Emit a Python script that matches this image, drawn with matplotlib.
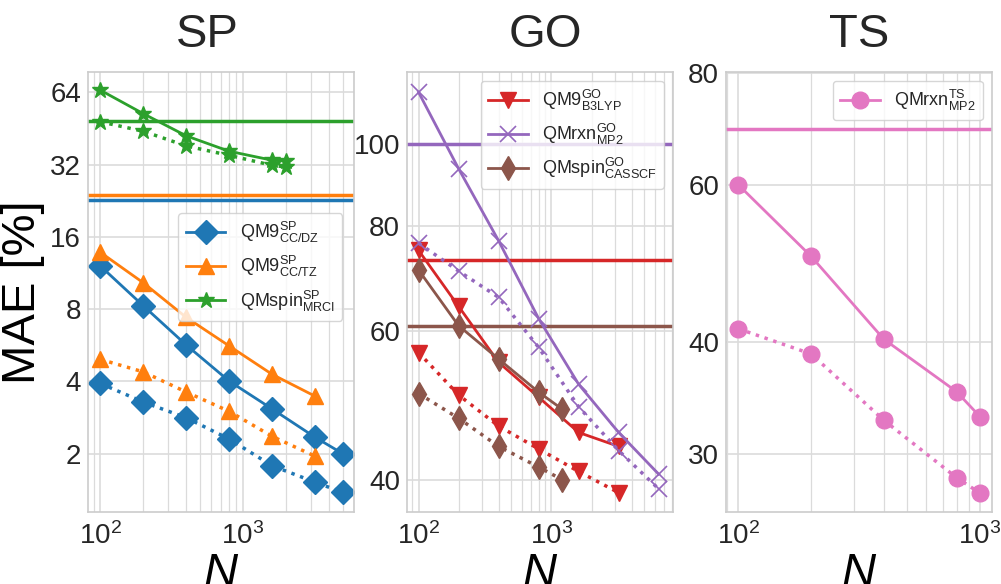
import numpy as np
import matplotlib
matplotlib.use("Agg")
import matplotlib.pyplot as plt
from matplotlib.ticker import FixedLocator, NullLocator, NullFormatter

# ---- data ----
sp_n_dz = [100, 200, 400, 800, 1600, 3200, 5000]
sp_n_tz = [100, 200, 400, 800, 1600, 3200]
sp_n_mrci = [100, 200, 400, 800, 1600, 2000]
sp_dz = [12.1, 8.26, 5.67, 4.01, 3.07, 2.34, 2.0]
sp_dz_dot = [3.92, 3.28, 2.82, 2.30, 1.78, 1.52, 1.38]
sp_tz = [13.8, 10.3, 7.39, 5.62, 4.28, 3.47]
sp_tz_dot = [4.94, 4.38, 3.61, 3.0, 2.36, 1.95]
sp_mrci = [65.4, 52.2, 42.2, 36.4, 33.4, 33.1]
sp_mrci_dot = [48.3, 44.1, 38.3, 35.0, 31.8, 31.3]
sp_hlines = [22.9, 23.9, 48.7]  # DZ, TZ, MRCI

go_n_b3lyp = [100, 200, 400, 800, 1600, 3200]
go_n_mp2 = [100, 200, 400, 800, 1600, 3200, 6400]
go_n_casscf = [100, 200, 400, 800, 1200]
go_b3lyp = [74.8, 64.2, 55.1, 50.1, 45.5, 43.8]
go_b3lyp_dot = [56.6, 50.4, 46.3, 43.5, 40.9, 38.6]
go_mp2 = [115.2, 93.5, 76.8, 62.1, 51.9, 45.5, 40.6]
go_mp2_dot = [76.3, 70.7, 65.8, 57.4, 48.8, 43.3, 39.0]
go_casscf = [70.9, 60.9, 55.6, 50.8, 48.5]
go_casscf_dot = [50.6, 47.3, 43.8, 41.4, 40.0]
go_hlines = [72.9, 100.0, 60.9]  # B3LYP, MP2, CASSCF

ts_n = [100, 200, 400, 800, 1000]
ts_mp2 = [60.0, 49.9, 40.3, 35.2, 33.0]
ts_mp2_dot = [41.4, 38.8, 32.7, 28.2, 27.1]
ts_hline = 69.3

plt.rcParams.update({
    "font.family": ["Liberation Sans", "DejaVu Sans"],
    "mathtext.fontset": "custom",
    "mathtext.rm": "Liberation Sans",
    "mathtext.it": "Liberation Sans:italic",
    "mathtext.bf": "Liberation Sans:bold",
    "axes.edgecolor": "0.8",
    "axes.linewidth": 1.2,
    "grid.color": "0.86",
    "xtick.major.size": 0, "ytick.major.size": 0,
    "xtick.minor.size": 0, "ytick.minor.size": 0,
    "xtick.major.pad": 7, "ytick.major.pad": 5,
    "xtick.labelsize": 20, "ytick.labelsize": 20,
    "text.color": "0.15", "xtick.color": "0.15", "ytick.color": "0.15",
    "legend.fontsize": 13,
})

c = plt.rcParams["axes.prop_cycle"].by_key()["color"]
blue, orange, green, red, purple, brown, pink = c[0], c[1], c[2], c[3], c[4], c[5], c[6]

fig, axes = plt.subplots(1, 3, figsize=(10.01, 5.84), dpi=100)
fig.subplots_adjust(left=0.088, right=0.991, bottom=0.123, top=0.877, wspace=0.2)

lw = 2
ms = 12


def style_axis(ax, title, tx):
    ax.set_xscale("log")
    ax.grid(True, which="major", lw=1.2)
    ax.xaxis.grid(True, which="minor", lw=0.9)
    ax.xaxis.set_minor_formatter(NullFormatter())
    ax.set_title(title, fontsize=34, pad=18, x=tx)
    ax.set_xlabel("$N$", fontsize=34, labelpad=2)
    ax.set_axisbelow(True)


# ---- SP ----
ax = axes[0]
style_axis(ax, "SP", 0.45)
ax.set_yscale("log", base=2)
for y, col in zip(sp_hlines, [blue, orange, green]):
    ax.axhline(y, color=col, lw=2.5)
ax.plot(sp_n_dz, sp_dz, "-D", color=blue, lw=lw, ms=ms, label=r"QM9$^\mathrm{SP}_\mathrm{CC/DZ}$")
ax.plot(sp_n_tz, sp_tz, "-^", color=orange, lw=lw, ms=ms, label=r"QM9$^\mathrm{SP}_\mathrm{CC/TZ}$")
ax.plot(sp_n_mrci, sp_mrci, "-*", color=green, lw=lw, ms=ms, label=r"QMspin$^\mathrm{SP}_\mathrm{MRCI}$")
ax.plot(sp_n_dz, sp_dz_dot, ":D", color=blue, lw=2.5, ms=ms)
ax.plot(sp_n_tz, sp_tz_dot, ":^", color=orange, lw=2.5, ms=ms)
ax.plot(sp_n_mrci, sp_mrci_dot, ":*", color=green, lw=2.5, ms=ms)
ax.set_xlim(82, 6000)
ax.set_ylim(1.14, 78)
ax.yaxis.set_major_locator(FixedLocator([2, 4, 8, 16, 32, 64]))
ax.set_yticklabels(["2", "4", "8", "16", "32", "64"])
ax.yaxis.set_minor_locator(NullLocator())
ax.set_ylabel("MAE [%]", fontsize=34, labelpad=4)
ax.legend(loc="upper right", bbox_to_anchor=(0.99, 0.70), handlelength=2.2)

# ---- GO ----
ax = axes[1]
style_axis(ax, "GO", 0.52)
ax.set_yscale("log")
for y, col in zip(go_hlines, [red, purple, brown]):
    ax.axhline(y, color=col, lw=2.5)
ax.plot(go_n_b3lyp, go_b3lyp, "-v", color=red, lw=lw, ms=ms, label=r"QM9$^\mathrm{GO}_\mathrm{B3LYP}$")
ax.plot(go_n_mp2, go_mp2, "-x", color=purple, lw=lw, ms=ms, mew=1.2, label=r"QMrxn$^\mathrm{GO}_\mathrm{MP2}$")
ax.plot(go_n_casscf, go_casscf, "-d", color=brown, lw=lw, ms=ms, label=r"QMspin$^\mathrm{GO}_\mathrm{CASSCF}$")
ax.plot(go_n_b3lyp, go_b3lyp_dot, ":v", color=red, lw=2.5, ms=ms)
ax.plot(go_n_mp2, go_mp2_dot, ":x", color=purple, lw=2.5, ms=ms, mew=1.2)
ax.plot(go_n_casscf, go_casscf_dot, ":d", color=brown, lw=2.5, ms=ms)
ax.set_xlim(82, 8200)
ax.set_ylim(36.6, 121.8)
ax.yaxis.set_major_locator(FixedLocator([40, 60, 80, 100]))
ax.set_yticklabels(["40", "60", "80", "100"])
ax.yaxis.set_minor_locator(NullLocator())
ax.legend(loc="upper right", handlelength=2.2)

# ---- TS ----
ax = axes[2]
style_axis(ax, "TS", 0.5)
ax.set_yscale("log")
ax.axhline(ts_hline, color=pink, lw=2.5)
ax.plot(ts_n, ts_mp2, "-o", color=pink, lw=lw, ms=ms, label=r"QMrxn$^\mathrm{TS}_\mathrm{MP2}$")
ax.plot(ts_n, ts_mp2_dot, ":o", color=pink, lw=2.5, ms=ms)
ax.set_xlim(89, 1121)
ax.set_ylim(25.8, 80.3)
ax.yaxis.set_major_locator(FixedLocator([30, 40, 60, 80]))
ax.set_yticklabels(["30", "40", "60", "80"])
ax.yaxis.set_minor_locator(NullLocator())
ax.legend(loc="upper right", handlelength=2.2)

fig.savefig("out.png", dpi=100)
